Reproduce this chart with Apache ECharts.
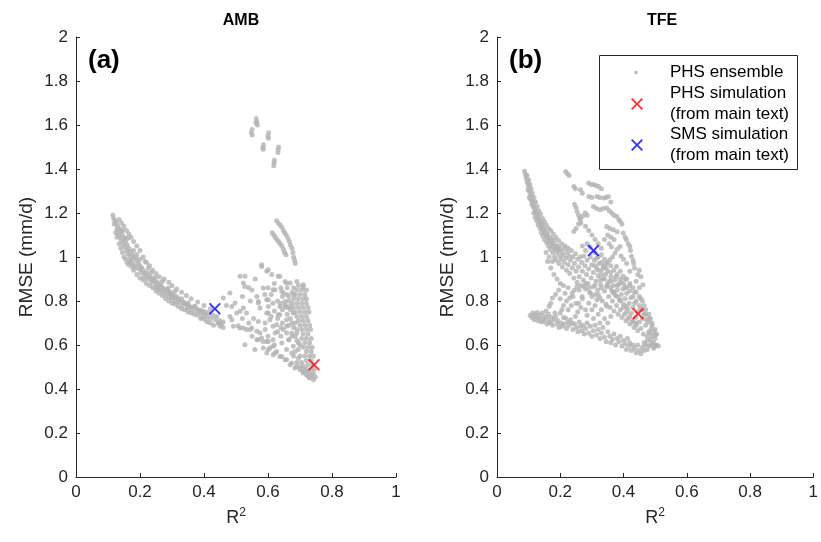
<!DOCTYPE html>
<html>
<head>
<meta charset="utf-8">
<script src="https://cdn.jsdelivr.net/npm/echarts@6/dist/echarts.min.js"></script>
<style>html,body{margin:0;padding:0;background:#fff}#chart{width:821px;height:542px}</style>
</head>
<body>
<div id="chart"></div>
<script>
// ---- data (R2, RMSE) ----
const xTicks = [0, 0.2, 0.4, 0.6, 0.8, 1];
const yTicks = [0, 0.2, 0.4, 0.6, 0.8, 1, 1.2, 1.4, 1.6, 1.8, 2];

const ambEnsemble = [
 [0.115,1.19],[0.118,1.175],[0.122,1.165],[0.119,1.15],[0.126,1.155],[0.13,1.14],[0.128,1.125],[0.135,1.13],[0.124,1.11],[0.133,1.105],
 [0.14,1.115],[0.138,1.09],[0.145,1.1],[0.142,1.075],[0.15,1.085],[0.148,1.06],[0.155,1.07],[0.152,1.045],[0.16,1.055],[0.158,1.03],
 [0.165,1.04],[0.162,1.015],[0.17,1.025],[0.168,1.0],[0.175,1.01],[0.172,0.985],[0.18,0.995],[0.178,0.97],[0.185,1.0],[0.183,0.96],
 [0.19,0.985],[0.188,0.95],[0.195,0.97],[0.198,0.945],[0.2,0.96],[0.205,0.95],[0.203,0.93],[0.21,0.94],[0.215,0.925],[0.212,0.91],
 [0.22,0.93],[0.225,0.915],[0.222,0.9],[0.23,0.91],[0.235,0.895],[0.24,0.905],[0.238,0.885],[0.245,0.89],[0.25,0.88],[0.248,0.865],
 [0.255,0.885],[0.26,0.87],[0.258,0.855],[0.265,0.875],[0.27,0.86],[0.268,0.845],[0.275,0.855],[0.28,0.845],[0.278,0.83],[0.285,0.85],
 [0.29,0.835],[0.288,0.82],[0.295,0.84],[0.3,0.83],[0.298,0.815],[0.305,0.825],[0.31,0.815],[0.308,0.8],[0.315,0.82],[0.32,0.81],
 [0.318,0.795],[0.325,0.8],[0.33,0.81],[0.335,0.795],[0.332,0.78],[0.34,0.79],[0.345,0.785],[0.35,0.78],[0.348,0.765],[0.355,0.775],
 [0.36,0.77],[0.365,0.76],[0.37,0.775],[0.375,0.765],[0.38,0.755],[0.385,0.76],[0.39,0.745],[0.395,0.755],[0.4,0.74],[0.405,0.75],
 [0.41,0.73],[0.415,0.745],[0.42,0.72],[0.428,0.735],[0.435,0.715],[0.44,0.73],[0.445,0.7],[0.45,0.71],[0.455,0.695],[0.46,0.705],
 [0.403,0.715],[0.395,0.725],[0.145,1.12],[0.163,1.085],[0.18,1.03],[0.2,0.99],[0.235,0.93],[0.27,0.89],[0.153,1.086],[0.169,0.98],
 [0.19,1.01],[0.216,0.98],[0.226,0.95],[0.247,0.905],[0.257,0.859],[0.288,0.859],[0.309,0.844],[0.299,0.814],[0.351,0.791],[0.372,0.775],
 [0.393,0.753],[0.445,0.70],[0.46,0.814],[0.481,0.836],[0.47,0.78],
 [0.128,1.09],[0.135,1.06],[0.14,1.04],[0.145,1.02],[0.15,1.0],[0.155,0.99],[0.16,0.975],[0.165,0.965],[0.175,0.955],[0.18,0.94],
 [0.19,0.92],[0.2,0.905],[0.21,0.895],[0.22,0.88],[0.23,0.87],[0.24,0.86],[0.25,0.845],[0.26,0.835],[0.27,0.825],[0.28,0.81],
 [0.29,0.8],[0.3,0.79],[0.31,0.785],[0.32,0.775],[0.33,0.765],[0.34,0.76],[0.35,0.75],[0.36,0.745],[0.37,0.74],[0.38,0.735],
 [0.39,0.72],[0.41,0.705],[0.42,0.7],[0.43,0.69],[0.45,0.685],[0.46,0.68],
 [0.135,1.17],[0.142,1.155],[0.15,1.14],[0.158,1.12],[0.165,1.105],[0.172,1.09],[0.18,1.07],[0.19,1.05],[0.2,1.03],[0.21,1.0],
 [0.22,0.975],[0.23,0.96],[0.24,0.94],[0.25,0.925],[0.26,0.91],[0.275,0.9],[0.29,0.885],[0.3,0.87],[0.315,0.855],[0.33,0.84],
 [0.345,0.825],[0.36,0.81],[0.38,0.795],[0.4,0.78],[0.42,0.765],
 // right region
 [0.58,0.957],[0.596,0.935],[0.612,0.92],[0.637,0.912],[0.653,0.889],[0.669,0.882],[0.69,0.889],[0.71,0.874],[0.5125,0.912],[0.523,0.882],
 [0.528,0.866],[0.585,0.859],[0.616,0.851],[0.643,0.844],[0.565,0.821],[0.596,0.806],[0.497,0.791],[0.523,0.768],[0.502,0.745],[0.533,0.745],
 [0.57,0.798],[0.575,0.768],[0.601,0.775],[0.596,0.745],[0.637,0.775],[0.637,0.738],[0.653,0.798],[0.669,0.775],[0.679,0.745],[0.658,0.715],
 [0.606,0.715],[0.487,0.715],[0.492,0.685],[0.5125,0.677],[0.533,0.67],[0.549,0.677],[0.57,0.707],[0.575,0.655],[0.591,0.67],[0.616,0.685],
 [0.622,0.655],[0.648,0.67],[0.658,0.655],[0.565,0.624],[0.585,0.616],[0.601,0.616],[0.616,0.624],[0.528,0.601],[0.559,0.579],[0.585,0.586],
 [0.606,0.586],[0.627,0.571],[0.596,0.564],[0.616,0.556],[0.643,0.548],[0.658,0.533],[0.674,0.518],[0.69,0.503],[0.7,0.488],[0.71,0.473],
 [0.726,0.457],[0.742,0.442],[0.679,0.594],[0.665,0.624],[0.69,0.655],
 [0.481,0.73],[0.507,0.688],[0.523,0.677],[0.544,0.67],[0.565,0.662],[0.58,0.632],[0.596,0.616],[0.57,0.624],[0.601,0.579],[0.622,0.564],
 [0.637,0.548],[0.653,0.533],[0.669,0.51],[0.684,0.495],[0.616,0.594],[0.643,0.609],[0.665,0.624],[0.658,0.579],[0.674,0.564],[0.487,0.775],
 [0.5125,0.753],[0.528,0.912],[0.57,0.791],[0.601,0.806],[0.601,0.745],[0.591,0.70],[0.627,0.692],[0.632,0.738],[0.658,0.685],[0.674,0.655],
 [0.653,0.775],[0.658,0.882],[0.632,0.912],[0.601,0.942],[0.58,0.965],[0.622,0.851],[0.648,0.836],
 [0.695,0.87],[0.71,0.865],[0.69,0.85],[0.705,0.85],[0.72,0.85],[0.685,0.83],[0.70,0.83],[0.715,0.83],[0.68,0.81],[0.695,0.81],
 [0.71,0.81],[0.72,0.81],[0.675,0.79],[0.69,0.79],[0.705,0.79],[0.72,0.79],[0.68,0.77],[0.695,0.77],[0.71,0.77],[0.725,0.77],
 [0.685,0.75],[0.70,0.75],[0.715,0.75],[0.728,0.75],[0.69,0.73],[0.705,0.73],[0.72,0.73],[0.695,0.71],[0.71,0.71],[0.725,0.71],
 [0.70,0.69],[0.715,0.69],[0.73,0.69],[0.705,0.67],[0.72,0.67],[0.733,0.67],[0.71,0.65],[0.725,0.65],[0.705,0.63],[0.72,0.63],
 [0.735,0.63],[0.715,0.61],[0.73,0.61],[0.71,0.59],[0.725,0.59],[0.738,0.59],[0.72,0.57],[0.735,0.57],[0.715,0.55],[0.73,0.55],
 [0.742,0.55],[0.72,0.53],[0.735,0.53],[0.725,0.51],[0.74,0.51],[0.72,0.49],[0.735,0.49],[0.745,0.49],[0.73,0.47],[0.742,0.47],
 [0.738,0.46],[0.748,0.455],[0.66,0.83],[0.665,0.80],[0.67,0.76],[0.655,0.78],[0.66,0.74],[0.67,0.72],[0.675,0.70],[0.68,0.68],
 [0.69,0.62],[0.695,0.58],[0.70,0.55],[0.69,0.52],[0.70,0.50],[0.71,0.48],
 [0.62,0.88],[0.64,0.86],[0.66,0.86],[0.68,0.86],[0.675,0.84],[0.665,0.82],[0.68,0.83],[0.645,0.82],[0.63,0.8],[0.615,0.79],
 [0.64,0.79],[0.66,0.77],[0.645,0.76],[0.62,0.755],[0.61,0.73],[0.63,0.72],[0.645,0.7],[0.665,0.69],[0.685,0.7],[0.69,0.67],
 [0.675,0.64],[0.685,0.64],[0.695,0.61],[0.7,0.6],[0.685,0.57],[0.68,0.55],[0.695,0.54],[0.705,0.52],[0.71,0.505],[0.715,0.49],
 [0.725,0.48],[0.72,0.465],[0.73,0.45],[0.64,0.64],[0.62,0.6],[0.6,0.64],[0.55,0.64],[0.54,0.7],[0.555,0.72],[0.52,0.72],
 [0.545,0.8],[0.55,0.85],[0.56,0.9],[0.54,0.86],[0.52,0.82],[0.6,0.86],[0.61,0.83],[0.59,0.83],[0.64,0.68],[0.63,0.66],
 // upper streaks
 [0.627,1.165],[0.632,1.155],[0.638,1.145],[0.643,1.135],[0.648,1.12],[0.652,1.11],[0.657,1.10],[0.662,1.085],[0.667,1.07],[0.67,1.055],
 [0.675,1.04],[0.678,1.02],[0.68,1.0],[0.683,0.985],[0.685,0.97],[0.613,1.11],[0.618,1.1],[0.623,1.09],[0.628,1.08],[0.633,1.07],
 [0.638,1.06],[0.643,1.05],[0.648,1.035],[0.652,1.02],[0.656,1.01],
 // top clusters
 [0.563,1.63],[0.565,1.615],[0.567,1.60],[0.562,1.61],[0.55,1.58],[0.548,1.565],[0.551,1.555],[0.602,1.565],[0.6,1.55],[0.601,1.54],
 [0.586,1.51],[0.584,1.497],[0.585,1.49],[0.633,1.5],[0.632,1.487],[0.631,1.475],[0.62,1.44],[0.619,1.428],[0.618,1.415]
];
const ambPHS = [[0.744, 0.51]];
const ambSMS = [[0.434, 0.765]];

const tfeEnsemble = [
 [0.087,1.39],[0.09,1.375],[0.092,1.36],[0.095,1.345],[0.097,1.335],[0.1,1.32],[0.098,1.305],[0.103,1.3],[0.105,1.285],[0.102,1.27],
 [0.108,1.275],[0.107,1.26],[0.112,1.255],[0.11,1.24],[0.115,1.245],[0.114,1.23],[0.118,1.225],[0.12,1.21],[0.116,1.2],[0.123,1.205],
 [0.125,1.19],[0.121,1.18],[0.128,1.195],[0.13,1.18],[0.126,1.165],[0.133,1.17],[0.135,1.155],[0.13,1.145],[0.138,1.16],[0.14,1.14],
 [0.136,1.13],[0.143,1.145],[0.145,1.125],[0.14,1.11],[0.148,1.13],[0.15,1.11],[0.145,1.095],[0.153,1.115],[0.155,1.1],[0.15,1.08],
 [0.158,1.09],[0.16,1.105],[0.157,1.065],[0.162,1.075],[0.165,1.09],[0.163,1.05],[0.168,1.07],[0.17,1.085],[0.172,1.055],[0.168,1.035],
 [0.175,1.065],[0.178,1.045],[0.176,1.02],[0.18,1.075],[0.183,1.035],[0.185,1.055],[0.182,1.0],[0.188,1.04],[0.19,1.02],[0.187,0.985],
 [0.193,1.05],[0.195,1.03],[0.198,1.005],[0.196,0.97],[0.2,1.04],[0.203,0.99],[0.205,1.025],[0.207,0.955],[0.21,1.01],[0.213,0.975],
 [0.215,1.04],[0.218,0.995],[0.22,0.94],[0.222,1.02],[0.225,0.965],[0.228,1.005],[0.23,0.925],[0.232,0.985],[0.235,1.03],[0.238,0.95],
 [0.24,1.0],[0.243,0.905],[0.245,0.97],[0.248,1.015],[0.25,0.935],[0.253,0.885],[0.255,0.99],[0.258,0.955],[0.26,0.91],[0.263,1.0],
 [0.265,0.87],[0.268,0.975],[0.27,0.935],[0.273,0.895],[0.275,1.005],[0.278,0.96],[0.28,0.855],[0.283,0.92],[0.285,0.985],[0.288,0.88],
 [0.29,0.945],[0.293,0.84],[0.295,1.0],[0.298,0.905],[0.3,0.965],[0.303,0.865],[0.305,0.93],[0.308,0.985],[0.31,0.83],[0.313,0.89],
 [0.315,0.95],[0.318,0.85],[0.32,0.915],[0.323,0.97],[0.325,0.815],[0.328,0.875],[0.33,0.94],[0.333,0.8],[0.335,0.9],[0.338,0.955],
 [0.34,0.845],[0.343,0.92],[0.345,0.785],[0.348,0.87],[0.35,0.935],[0.353,0.82],[0.355,0.89],[0.358,0.77],[0.36,0.91],[0.363,0.845],
 [0.365,0.8],[0.368,0.87],[0.37,0.755],[0.373,0.895],[0.375,0.825],[0.378,0.78],[0.38,0.85],[0.383,0.74],[0.385,0.875],[0.388,0.805],
 [0.39,0.76],[0.393,0.83],[0.395,0.725],[0.398,0.855],[0.4,0.785],[0.403,0.74],[0.405,0.81],[0.408,0.71],[0.41,0.835],[0.413,0.765],
 [0.415,0.72],[0.418,0.79],[0.42,0.695],[0.423,0.815],[0.425,0.745],[0.428,0.705],[0.43,0.77],[0.433,0.68],[0.435,0.79],[0.438,0.725],
 [0.44,0.69],[0.443,0.75],[0.445,0.665],[0.45,0.705],[0.453,0.765],[0.455,0.675],[0.46,0.72],[0.463,0.65],[0.465,0.74],[0.47,0.69],
 [0.475,0.64],[0.478,0.705],[0.48,0.66],[0.485,0.625],[0.488,0.675],[0.49,0.64],[0.495,0.61],[0.5,0.63],[0.505,0.6],[0.51,0.595],
 [0.095,1.37],[0.1,1.35],[0.104,1.33],[0.108,1.31],[0.112,1.29],[0.117,1.27],[0.122,1.25],[0.127,1.23],[0.132,1.21],[0.138,1.195],
 [0.144,1.175],[0.15,1.16],[0.156,1.145],[0.163,1.13],[0.17,1.12],[0.178,1.105],[0.186,1.09],[0.195,1.075],[0.205,1.06],[0.215,1.05],
 [0.225,1.04],[0.31,0.96],[0.32,0.94],[0.33,0.92],[0.34,0.9],[0.35,0.88],[0.36,0.86],[0.37,0.84],[0.38,0.82],[0.39,0.8],
 [0.4,0.77],[0.41,0.75],[0.42,0.73],[0.43,0.71],[0.44,0.7],[0.315,0.995],[0.33,0.975],[0.345,0.95],[0.36,0.93],[0.375,0.91],
 [0.39,0.885],[0.405,0.865],[0.42,0.845],[0.43,0.82],[0.44,0.8],[0.45,0.78],[0.46,0.76],[0.47,0.74],[0.48,0.72],[0.49,0.7],
 [0.5,0.67],[0.505,0.65],
 [0.27,1.05],[0.28,1.03],[0.285,1.06],[0.295,1.045],[0.31,1.02],[0.32,1.0],[0.33,1.01],[0.34,0.99],[0.35,0.975],[0.36,0.96],
 [0.37,0.94],[0.38,0.92],[0.39,0.9],[0.4,0.88],[0.41,0.86],[0.42,0.87],[0.41,0.9],[0.42,0.88],[0.43,0.86],[0.435,0.84],
 [0.45,0.82],[0.46,0.8],[0.465,0.78],[0.47,0.76],[0.48,0.74],[0.485,0.72],[0.49,0.69],[0.495,0.66],[0.5,0.645],[0.38,0.87],
 [0.36,0.89],[0.33,0.86],[0.32,0.83],[0.3,0.82],[0.31,0.87],[0.29,0.86],[0.28,0.88],[0.26,0.85],[0.245,0.85],[0.225,0.86],
 [0.21,0.87],[0.2,0.88],[0.19,0.9],[0.18,0.92],[0.17,0.95],[0.16,0.98],[0.155,1.02],[0.165,1.0],[0.175,0.98],
 // lower band
 [0.105,0.735],[0.11,0.725],[0.113,0.745],[0.118,0.715],[0.12,0.738],[0.123,0.728],[0.127,0.748],[0.13,0.71],[0.133,0.723],[0.136,0.735],
 [0.14,0.705],[0.143,0.745],[0.146,0.718],[0.149,0.707],[0.152,0.73],[0.155,0.755],[0.158,0.695],[0.16,0.72],[0.163,0.74],[0.166,0.705],
 [0.17,0.7],[0.173,0.725],[0.176,0.69],[0.18,0.715],[0.183,0.745],[0.186,0.73],[0.19,0.695],[0.193,0.71],[0.196,0.68],[0.2,0.745],
 [0.203,0.7],[0.206,0.685],[0.21,0.725],[0.213,0.695],[0.217,0.723],[0.22,0.675],[0.224,0.705],[0.228,0.69],[0.232,0.715],[0.2375,0.70],
 [0.24,0.67],[0.245,0.695],[0.248,0.73],[0.252,0.68],[0.256,0.66],[0.26,0.705],[0.264,0.685],[0.268,0.665],[0.272,0.69],[0.276,0.65],
 [0.28,0.675],[0.285,0.7],[0.29,0.655],[0.295,0.685],[0.3,0.64],[0.305,0.665],[0.31,0.69],[0.315,0.645],[0.32,0.67],[0.326,0.63],
 [0.33,0.655],[0.335,0.68],[0.34,0.635],[0.345,0.615],[0.35,0.66],[0.357,0.64],[0.36,0.61],[0.365,0.625],[0.37,0.65],[0.375,0.6],
 [0.38,0.63],[0.385,0.615],[0.39,0.64],[0.395,0.595],[0.4,0.62],[0.405,0.605],[0.409,0.58],[0.413,0.63],[0.418,0.595],[0.42,0.61],
 [0.425,0.575],[0.43,0.6],[0.435,0.585],[0.44,0.565],[0.445,0.6],[0.45,0.575],[0.455,0.56],[0.46,0.59],[0.465,0.575],[0.47,0.6],
 [0.475,0.58],[0.48,0.595],[0.485,0.6],[0.49,0.61],[0.495,0.585],[0.5,0.595],[0.475,0.62],[0.465,0.61],
 // between bands
 [0.165,0.776],[0.175,0.814],[0.17,0.79],[0.185,0.83],[0.195,0.85],[0.2,0.81],[0.21,0.78],[0.205,0.76],[0.22,0.8],[0.225,0.76],
 [0.235,0.78],[0.24,0.82],[0.25,0.79],[0.255,0.75],[0.258,0.79],[0.265,0.77],[0.27,0.81],[0.274,0.866],[0.28,0.76],[0.285,0.735],
 [0.29,0.79],[0.295,0.836],[0.3,0.76],[0.305,0.72],[0.31,0.78],[0.316,0.806],[0.32,0.74],[0.325,0.7],[0.33,0.76],[0.34,0.72],
 [0.347,0.776],[0.35,0.7],[0.36,0.73],[0.2375,0.836],[0.269,0.821],[0.253,0.866],[0.23,0.815],[0.215,0.835],
 // upper right band
 [0.217,1.389],[0.222,1.38],[0.228,1.37],[0.243,1.321],[0.248,1.31],[0.264,1.306],[0.27,1.29],[0.29,1.336],[0.297,1.33],[0.305,1.329],
 [0.313,1.325],[0.321,1.321],[0.33,1.31],[0.29,1.275],[0.3,1.27],[0.316,1.275],[0.325,1.27],[0.337,1.268],[0.345,1.27],[0.352,1.275],
 [0.36,1.25],[0.305,1.23],[0.315,1.22],[0.326,1.215],[0.336,1.22],[0.347,1.223],[0.355,1.21],[0.3625,1.2],[0.37,1.19],[0.378,1.185],
 [0.385,1.17],[0.389,1.162],[0.395,1.15],[0.264,1.17],[0.27,1.185],[0.279,1.2],[0.285,1.19],[0.243,1.116],[0.25,1.13],[0.258,1.15],
 [0.28,1.14],[0.29,1.12],[0.3,1.1],[0.31,1.08],[0.32,1.06],[0.33,1.04],[0.347,1.139],[0.357,1.13],[0.368,1.124],[0.38,1.115],
 [0.399,1.109],[0.405,1.09],[0.409,1.079],[0.415,1.06],[0.42,1.048],[0.422,1.03],[0.425,1.003],[0.43,0.985],[0.432,0.97],[0.435,0.95],
 [0.42,0.935],[0.389,1.048],[0.38,1.035],[0.373,1.018],[0.365,1.0],[0.357,0.988],[0.345,0.97],[0.337,0.957],[0.378,0.957],[0.39,0.935],
 [0.399,0.912],[0.405,0.9],[0.4615,0.874],[0.45,0.86],[0.44,0.89],[0.445,0.92],[0.45,0.94],[0.455,0.91],[0.41,0.97],[0.4,0.99],
 [0.392,1.005],[0.355,1.06],[0.362,1.045],[0.34,1.08],[0.35,1.1],[0.36,1.09],[0.37,1.08],[0.326,0.897],[0.347,0.866],[0.368,0.836],
 [0.389,0.806],[0.409,0.776],[0.472,0.715],[0.4825,0.655],[0.498,0.594],[0.44,0.84],[0.455,0.81],[0.253,1.207],[0.258,1.19],[0.262,1.175],
 [0.265,1.155],[0.245,1.24],[0.25,1.225]
];
const tfePHS = [[0.446, 0.742]];
const tfeSMS = [[0.305, 1.029]];

// ---- styling ----
const FONT = '"Liberation Sans", Arial, Helvetica, sans-serif';
const AXC = '#262626';
const XMARK = 'path://M0,1.1L1.1,0L5,3.9L8.9,0L10,1.1L6.1,5L10,8.9L8.9,10L5,6.1L1.1,10L0,8.9L3.9,5Z';
const NAME_ENS = 'PHS ensemble';
const NAME_PHS = 'PHS simulation\n(from main text)';
const NAME_SMS = 'SMS simulation\n(from main text)';

function xAx(gi) {
  return {
    type: 'value', gridIndex: gi, min: 0, max: 1, interval: 0.2,
    name: 'R{s|2}', nameLocation: 'middle', nameGap: 30,
    nameTextStyle: { fontFamily: FONT, fontSize: 18, color: AXC,
      rich: { s: { fontFamily: FONT, fontSize: 12, color: AXC, verticalAlign: 'top', padding: [0, 0, 10, 0] } } },
    axisLine: { show: true, lineStyle: { color: AXC, width: 1 } },
    axisTick: { show: true, inside: true, length: 4, lineStyle: { color: AXC } },
    axisLabel: { fontFamily: FONT, fontSize: 17, color: AXC, margin: 7 },
    splitLine: { show: false }
  };
}
function yAx(gi) {
  return {
    type: 'value', gridIndex: gi, min: 0, max: 2, interval: 0.2,
    name: 'RMSE (mm/d)', nameLocation: 'middle', nameGap: 40,
    nameTextStyle: { fontFamily: FONT, fontSize: 19, color: AXC },
    axisLine: { show: true, lineStyle: { color: AXC, width: 1 } },
    axisTick: { show: true, inside: true, length: 4, lineStyle: { color: AXC } },
    axisLabel: { fontFamily: FONT, fontSize: 17, color: AXC, margin: 8 },
    splitLine: { show: false }
  };
}
function ens(gi, data) {
  return { type: 'scatter', name: NAME_ENS, xAxisIndex: gi, yAxisIndex: gi, data: data,
    symbol: 'circle', symbolSize: 5, itemStyle: { color: '#b3b3b3' }, silent: true, z: 2 };
}
function xm(gi, name, color, data) {
  return { type: 'scatter', name: name, xAxisIndex: gi, yAxisIndex: gi, data: data,
    symbol: XMARK, symbolSize: 12, itemStyle: { color: color }, silent: true, z: 5 };
}

const chart = echarts.init(document.getElementById('chart'), null, { renderer: 'canvas' });
chart.setOption({
  animation: false,
  backgroundColor: '#ffffff',
  textStyle: { fontFamily: FONT },
  title: [
    { text: 'AMB', left: 236, top: 8, textAlign: 'center', textStyle: { fontFamily: FONT, fontSize: 16, fontWeight: 'bold', color: '#000' } },
    { text: 'TFE', left: 657, top: 8, textAlign: 'center', textStyle: { fontFamily: FONT, fontSize: 16, fontWeight: 'bold', color: '#000' } },
    { text: '(a)', left: 83, top: 43, textStyle: { fontFamily: FONT, fontSize: 26, fontWeight: 'bold', color: '#000' } },
    { text: '(b)', left: 504, top: 43, textStyle: { fontFamily: FONT, fontSize: 26, fontWeight: 'bold', color: '#000' } }
  ],
  grid: [
    { left: 76, top: 37, width: 320, height: 440 },
    { left: 497, top: 37, width: 320, height: 440 }
  ],
  xAxis: [xAx(0), xAx(1)],
  yAxis: [yAx(0), yAx(1)],
  legend: [
    { data: [NAME_ENS], orient: 'vertical', left: 629, top: 59, itemWidth: 4, itemHeight: 4, icon: 'circle',
      selectedMode: false, textStyle: { fontFamily: FONT, fontSize: 17, color: '#000', padding: [0, 0, 0, 27] } },
    { data: [NAME_PHS, NAME_SMS], orient: 'vertical', left: 626, top: 78, itemWidth: 12, itemHeight: 12, itemGap: -1,
      selectedMode: false, textStyle: { fontFamily: FONT, fontSize: 17, color: '#000', lineHeight: 21, padding: [0, 0, 0, 22] } }
  ],
  graphic: [
    { type: 'rect', z: 3, shape: { x: 599.5, y: 55.5, width: 198, height: 114 },
      style: { fill: '#ffffff', stroke: AXC, lineWidth: 1 } }
  ],
  series: [
    ens(0, ambEnsemble),
    xm(0, NAME_PHS, '#ff0000', ambPHS),
    xm(0, NAME_SMS, '#0000ff', ambSMS),
    ens(1, tfeEnsemble),
    xm(1, NAME_PHS, '#ff0000', tfePHS),
    xm(1, NAME_SMS, '#0000ff', tfeSMS)
  ]
});
</script>
</body>
</html>
